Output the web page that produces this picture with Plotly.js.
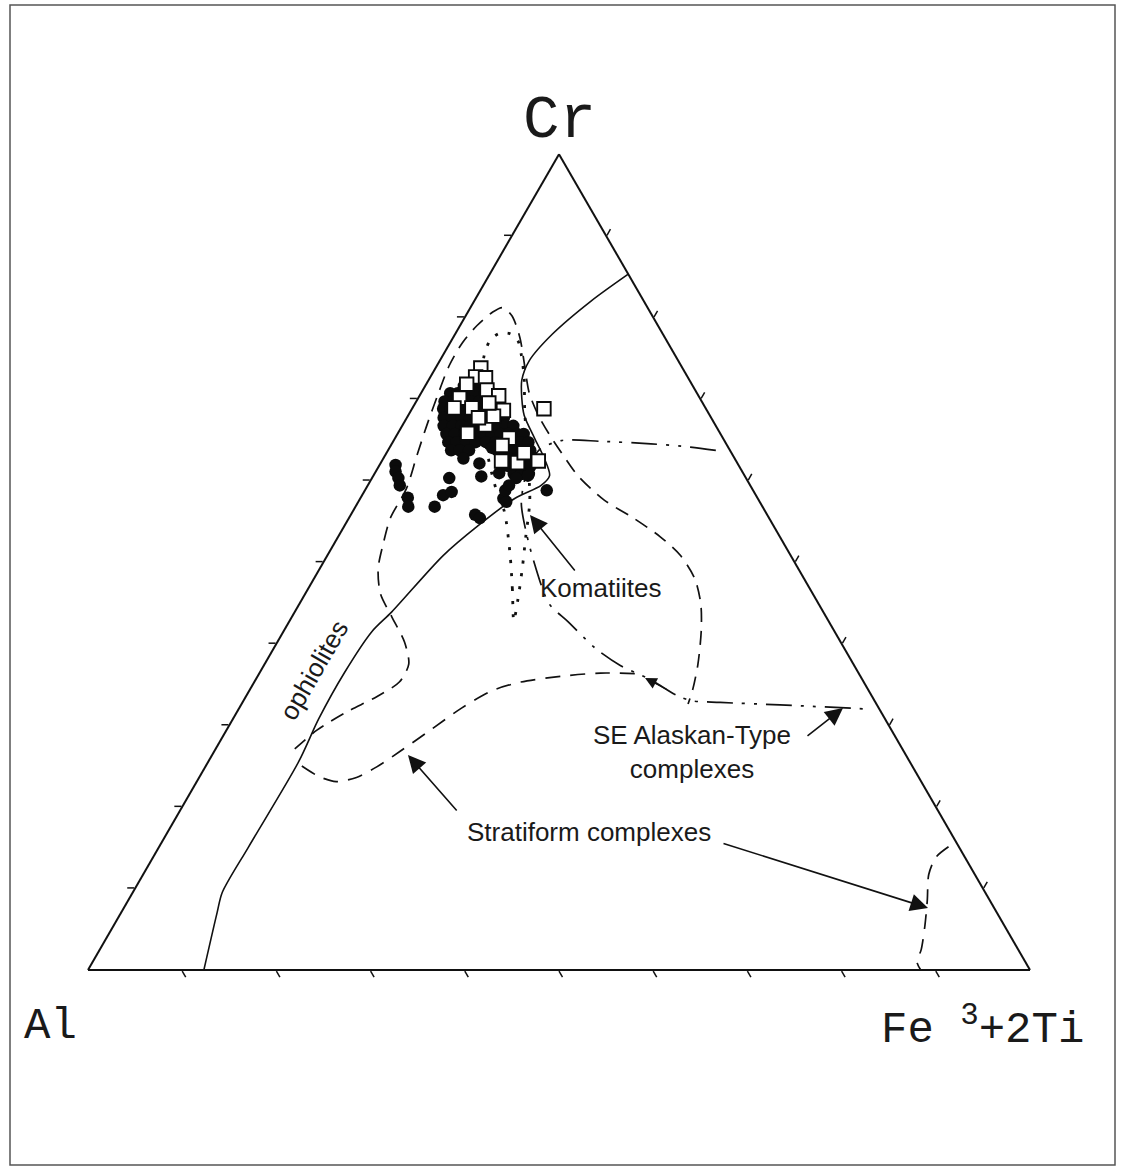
<!DOCTYPE html>
<html>
<head>
<meta charset="utf-8">
<script src="https://cdn.plot.ly/plotly-3.0.1.min.js"></script>
<style>
html,body{margin:0;padding:0;background:#fff;}
#chart{width:1125px;height:1170px;}
</style>
</head>
<body>
<div id="chart"></div>
<script>
// Ternary Cr – Al – (Fe3+ + 2Ti), values in % (sum = 100); Al is the remainder.

// Spinel analyses: filled circles
const circleCr = [
  71.6,71.6,71.6,
  70.7,70.7,70.7,70.7,70.7,70.7,
  69.7,69.7,69.7,69.7,69.7,69.7,69.7,
  68.8,68.8,68.8,68.8,68.8,68.8,68.8,
  67.7,67.7,67.7,67.7,67.7,67.7,67.7,67.7,
  66.7,66.7,66.7,66.7,66.7,66.7,66.7,66.7,66.7,
  65.7,65.7,65.7,65.7,65.7,65.7,65.7,65.7,65.7,65.7,
  64.7,64.7,64.7,64.7,64.7,64.7,64.7,64.7,64.7,64.7,
  63.7,63.7,63.7,63.7,63.7,63.7,63.7,63.7,
  62.7,62.7,62.7,62.7,62.7,
  61.8,61.8,61.8,61.8,
  60.8,60.8,60.8,
  61.9,61.1,60.3,59.4,57.9,56.8,56.8,58.2,58.6,60.3,62.7,62.1,60.5,55.8,55.4,57.8,57.4,58.8,58.8,60.6,60.3,59.4,60.9,64.0
];
const circleFe = [
  4.1,5.1,6.0,
  3.1,3.9,4.9,5.8,6.8,7.5,
  3.0,3.9,4.8,5.8,6.7,7.7,8.4,
  3.3,4.1,5.1,6.1,7.0,8.0,8.9,
  3.9,4.8,5.8,6.7,7.7,8.6,9.5,10.3,
  4.4,5.4,6.3,7.3,8.3,9.2,10.2,11.0,11.8,
  5.2,6.1,7.1,8.0,9.0,10.0,11.0,11.8,12.7,13.4,
  5.9,6.8,7.8,8.8,9.9,10.9,11.9,12.7,13.6,14.4,
  6.7,7.6,8.6,11.6,12.6,13.4,14.3,15.1,
  12.5,13.4,14.2,15.1,15.8,
  13.6,14.4,15.2,16.1,
  14.8,15.6,16.4,
  1.7,2.1,2.8,3.4,5.0,5.6,8.4,8.6,9.3,8.2,8.5,10.5,11.5,13.2,13.9,15.2,15.7,14.9,19.3,16.4,15.3,15.0,13.2,10.9
];

// Spinel analyses: open squares
const squareCr = [73.8,72.7,72.6,71.8,71.1,70.1,70.4,68.6,68.8,68.9,66.8,67.7,67.9,65.2,64.3,62.4,62.2,62.4,63.4,68.9,69.5,65.8];
const squareFe = [4.8,4.8,5.9,4.3,6.8,4.4,8.4,9.8,14.0,6.3,8.8,7.6,9.1,12.1,11.8,12.7,14.5,16.6,14.6,4.4,7.8,7.4];

// Solid boundary line
const boundaryCr = [85.3,82.0,77.9,74.7,72.3,70.1,68.0,65.2,62.7,60.6,59.4,57.8,54.5,50.8,43.9,41.5,36.5,30.8,25.5,15.1,9.5,7.0,0];
const boundaryFe = [14.7,12.4,10.3,9.5,9.9,11.0,12.3,14.8,17.1,18.7,18.4,16.4,14.2,12.3,10.3,9.4,9.0,9.1,9.6,9.5,9.5,10.2,12.3];

// Large dashed field
const dashedFieldCr = [27.1,29.4,31.6,33.5,35.3,37.5,40.2,43.3,46.1,49.2,52.3,55.4,59.0,63.0,66.7,70.4,74.1,76.9,79.0,80.6,81.2,80.2,77.5,74.1,70.7,67.9,65.6,63.0,60.6,57.6,55.4,53.1,50.8,48.0,44.9,41.6,37.5,34.4,32.6];
const dashedFieldFe = [8.4,9.6,11.6,13.9,15.4,15.3,13.5,10.6,8.0,6.2,5.2,4.4,4.3,3.4,2.6,1.9,1.3,1.3,1.8,2.6,3.4,4.9,7.1,9.3,11.5,13.9,16.2,19.0,21.7,26.0,30.2,34.2,37.5,40.4,42.6,44.3,46.0,47.0,47.4];

// Komatiites field (dotted)
const komatiiteCr = [42.8,46.7,51.0,56.2,59.0,64.0,70.1,75.0,77.1,78.0,78.0,77.1,75.4,72.6,68.9,64.0,57.6,52.9,49.2,45.5,42.8];
const komatiiteFe = [23.8,21.7,19.3,16.1,13.8,10.3,7.0,4.5,4.1,4.6,5.8,7.1,8.3,10.0,11.9,14.6,18.1,20.0,21.5,22.9,23.8];

// SE Alaskan-type complexes field (dash-dot)
const alaskanCr = [63.7,64.1,64.5,64.8,64.9,63.7,60.9,57.2,53.5,49.8,44.9,42.7,39.4,37.3,35.6,33.6,33.0,32.8,32.5,32.0];
const alaskanFe = [34.8,31.9,27.5,22.1,17.8,16.0,16.1,17.4,19.8,22.5,26.5,29.6,34.2,37.9,41.9,45.8,47.6,50.7,57.2,66.6];

// Stratiform complexes fields (dashed)
const stratiformCr = [25.0,23.7,23.1,23.6,24.9,26.9,29.5,32.1,34.2,35.3,36.0,36.4,36.3];
const stratiformFe = [10.2,12.7,14.8,16.7,18.2,19.8,21.7,23.6,25.7,28.3,32.2,36.2,40.5];
const stratiform2Cr = [15.1,13.8,11.7,8.6,5.5,2.5,1.0,0];
const stratiform2Fe = [83.8,83.1,83.4,84.8,86.1,87.2,87.5,88.4];

// Axis ticks (every 10 %) and labels
const tickValues = [10,20,30,40,50,60,70,80,90];
const vertexLabels = ['Cr', 'Al', 'Fe\u00A0<sup>3</sup>+2Ti'];
const fieldLabels = ['Komatiites', 'ophiolites', 'SE Alaskan-Type<br>complexes', 'Stratiform complexes'];

const al = (cr, fe) => cr.map((v, i) => Math.max(0, +(100 - v - fe[i]).toFixed(2)));

function lineTrace(cr, fe, dash, width) {
  return {
    type: 'scatterternary', mode: 'lines',
    a: cr, b: al(cr, fe), c: fe,
    line: {color: '#111', width: width, dash: dash, shape: 'spline', smoothing: 0.8},
    hoverinfo: 'skip', showlegend: false, cliponaxis: false
  };
}

const traces = [
  lineTrace(boundaryCr, boundaryFe, 'solid', 1.6),
  lineTrace(dashedFieldCr, dashedFieldFe, '14px,9px', 1.7),
  lineTrace(komatiiteCr, komatiiteFe, '3px,10px', 2.8),
  lineTrace(alaskanCr, alaskanFe, '26px,9px,3px,9px,3px,9px', 1.7),
  lineTrace(stratiformCr, stratiformFe, '15px,10px', 1.7),
  lineTrace(stratiform2Cr, stratiform2Fe, '15px,10px', 1.7),
  {
    type: 'scatterternary', mode: 'markers',
    a: circleCr, b: al(circleCr, circleFe), c: circleFe,
    marker: {symbol: 'circle', size: 12.5, color: '#0b0b0b', line: {width: 0}},
    showlegend: false, hoverinfo: 'a+b+c'
  },
  {
    type: 'scatterternary', mode: 'markers',
    a: squareCr, b: al(squareCr, squareFe), c: squareFe,
    marker: {symbol: 'square', size: 13.5, color: '#ffffff', line: {color: '#0b0b0b', width: 1.9}},
    showlegend: false, hoverinfo: 'a+b+c'
  }
];

const W = 1125, H = 1170;
const px = x => x / W, py = y => 1 - y / H;

function axis() {
  return {
    min: 0, tickmode: 'array', tickvals: tickValues, ticks: 'outside', ticklen: 7, tickwidth: 1.5, tickcolor: '#111',
    showticklabels: false, showgrid: false, showline: true, linecolor: '#111', linewidth: 2,
    title: {text: ''}
  };
}

const textFont = s => ({family: 'Liberation Sans, Arial, sans-serif', size: s, color: '#1a1a1a'});
const monoFont = s => ({family: 'Liberation Mono, Courier New, monospace', size: s, color: '#1a1a1a'});

function label(x, y, text, font, extra) {
  return Object.assign({xref: 'paper', yref: 'paper', x: px(x), y: py(y), xanchor: 'center', yanchor: 'middle',
    text: text, showarrow: false, font: font}, extra || {});
}

function arrow(tipX, tipY, tailX, tailY, w, sz) {
  return {
    xref: 'paper', yref: 'paper', x: px(tipX), y: py(tipY),
    axref: 'pixel', ayref: 'pixel', ax: tailX - tipX, ay: tailY - tipY,
    text: '', showarrow: true, arrowhead: 2, arrowsize: sz, arrowwidth: w, arrowcolor: '#111'
  };
}

const layout = {
  width: W, height: H,
  margin: {l: 0, r: 0, t: 0, b: 0},
  paper_bgcolor: '#fff',
  showlegend: false,
  ternary: {
    sum: 100,
    domain: {x: [88 / W, 1030 / W], y: [0.15957, 0.87957]},
    bgcolor: '#fff',
    aaxis: axis(), baxis: axis(), caxis: axis()
  },
  shapes: [
    {type: 'rect', xref: 'paper', yref: 'paper', x0: px(10), x1: px(1115), y0: py(1165), y1: py(5),
     line: {color: '#555', width: 1.5}, fillcolor: 'rgba(0,0,0,0)'}
  ],
  annotations: [
    label(559, 121, vertexLabels[0], monoFont(61)),
    label(50, 1026, vertexLabels[1], monoFont(44)),
    label(982, 1026, vertexLabels[2], monoFont(44)),
    label(600, 588, fieldLabels[0], textFont(26)),
    label(314, 670, fieldLabels[1], textFont(26), {textangle: -60}),
    label(692, 752, fieldLabels[2], textFont(26), {align: 'center'}),
    label(589, 832, fieldLabels[3], textFont(26)),
    arrow(530, 515, 576, 572, 1.6, 2.2),
    arrow(843, 708, 806, 737, 1.6, 2.2),
    arrow(408, 755, 458, 812, 1.6, 2.2),
    arrow(928, 908, 722, 843, 1.6, 2.2),
    arrow(645, 678, 668, 690, 1.3, 1.8)
  ]
};

Plotly.newPlot('chart', traces, layout, {staticPlot: true, displayModeBar: false});
</script>
</body>
</html>
